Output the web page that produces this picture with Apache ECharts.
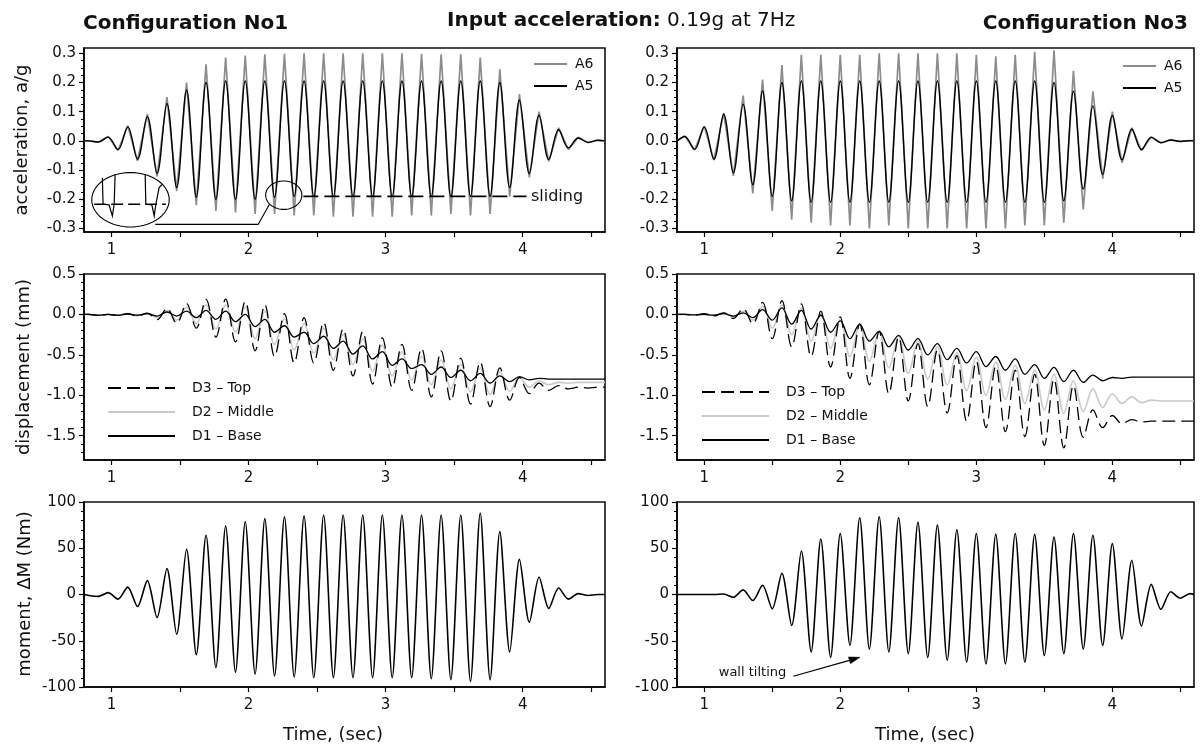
<!DOCTYPE html>
<html>
<head>
<meta charset="utf-8">
<script src="https://cdn.jsdelivr.net/npm/echarts@6.0.0/dist/echarts.min.js"></script>
<style>html,body{margin:0;padding:0;background:#fff}#c{width:1200px;height:752px}</style>
</head>
<body>
<div id="c"></div>
<script>
// ---------------- DATA ----------------
// Time of successive extremes (sec), Configuration No1
const tC1 = [0.80, 0.834, 0.905, 0.976, 1.048, 1.119, 1.190, 1.262, 1.333, 1.405, 1.476, 1.548, 1.619, 1.690, 1.762,
  1.833, 1.905, 1.976, 2.048, 2.119, 2.190, 2.262, 2.333, 2.405, 2.476, 2.548, 2.619, 2.690, 2.762, 2.833, 2.905,
  2.976, 3.048, 3.119, 3.190, 3.262, 3.333, 3.405, 3.476, 3.548, 3.619, 3.690, 3.762, 3.833, 3.905, 3.976, 4.048,
  4.119, 4.190, 4.262, 4.333, 4.405, 4.476, 4.548, 4.60];
// Time of successive extremes (sec), Configuration No3
const tC3 = [0.80, 0.857, 0.929, 1.000, 1.071, 1.143, 1.214, 1.286, 1.357, 1.429, 1.500, 1.571, 1.643, 1.714, 1.786,
  1.857, 1.929, 2.000, 2.071, 2.143, 2.214, 2.286, 2.357, 2.429, 2.500, 2.571, 2.643, 2.714, 2.786, 2.857, 2.929,
  3.000, 3.071, 3.143, 3.214, 3.286, 3.357, 3.429, 3.500, 3.571, 3.643, 3.714, 3.786, 3.857, 3.929, 4.000, 4.071,
  4.143, 4.214, 4.286, 4.357, 4.429, 4.500, 4.571, 4.60];

// acceleration a/g, Config No1
const a5C1 = [0, 0, -0.004, 0.013, -0.03, 0.048, -0.063, 0.083, -0.112, 0.128, -0.16, 0.174, -0.193, 0.2, -0.2,
  0.205, -0.2, 0.205, -0.2, 0.205, -0.193, 0.205, -0.19, 0.205, -0.19, 0.205, -0.19, 0.205, -0.19, 0.205, -0.19,
  0.205, -0.19, 0.205, -0.19, 0.205, -0.19, 0.205, -0.19, 0.205, -0.19, 0.205, -0.19, 0.2, -0.16, 0.14, -0.112,
  0.088, -0.064, 0.038, -0.024, 0.01, -0.005, 0.002, 0];
const a6C1 = [0, 0, -0.004, 0.015, -0.033, 0.052, -0.068, 0.092, -0.122, 0.15, -0.172, 0.2, -0.22, 0.262, -0.24,
  0.285, -0.245, 0.292, -0.25, 0.296, -0.25, 0.298, -0.255, 0.3, -0.255, 0.3, -0.26, 0.3, -0.26, 0.3, -0.26,
  0.3, -0.26, 0.3, -0.255, 0.298, -0.255, 0.296, -0.25, 0.296, -0.255, 0.285, -0.25, 0.245, -0.19, 0.16, -0.125,
  0.1, -0.07, 0.045, -0.03, 0.012, -0.006, 0.002, 0];
// acceleration a/g, Config No3
const a5C3 = [0, 0.015, -0.029, 0.048, -0.063, 0.091, -0.11, 0.126, -0.15, 0.171, -0.19, 0.2, -0.205, 0.205, -0.21,
  0.205, -0.21, 0.205, -0.21, 0.205, -0.21, 0.205, -0.21, 0.205, -0.21, 0.205, -0.21, 0.205, -0.21, 0.205, -0.21,
  0.205, -0.21, 0.205, -0.21, 0.205, -0.21, 0.205, -0.21, 0.2, -0.205, 0.17, -0.165, 0.12, -0.115, 0.087, -0.065,
  0.04, -0.03, 0.012, -0.006, 0.003, -0.002, 0.001, 0];
const a6C3 = [0, 0.017, -0.031, 0.05, -0.066, 0.095, -0.12, 0.155, -0.18, 0.21, -0.24, 0.26, -0.27, 0.295, -0.28,
  0.295, -0.29, 0.295, -0.29, 0.295, -0.3, 0.3, -0.29, 0.3, -0.3, 0.3, -0.3, 0.3, -0.3, 0.3, -0.3,
  0.295, -0.3, 0.29, -0.3, 0.295, -0.29, 0.305, -0.29, 0.31, -0.28, 0.24, -0.235, 0.17, -0.13, 0.1, -0.075,
  0.045, -0.033, 0.014, -0.007, 0.003, -0.002, 0.001, 0];

// displacement (mm), Config No1
const d1C1 = [0, 0, -0.01, 0, -0.01, 0.005, -0.01, 0.01, -0.02, 0.03, -0.02, 0.04, -0.04, 0.05, -0.06,
  0.04, -0.09, 0.0, -0.15, -0.06, -0.22, -0.14, -0.28, -0.22, -0.36, -0.27, -0.42, -0.33, -0.49, -0.39, -0.55,
  -0.46, -0.63, -0.55, -0.67, -0.62, -0.74, -0.65, -0.78, -0.69, -0.82, -0.73, -0.85, -0.76, -0.83, -0.77, -0.81,
  -0.79, -0.8, -0.8, -0.8, -0.8, -0.8, -0.8, -0.8];
const d2C1 = [0, 0, -0.01, 0, -0.01, 0.01, -0.015, 0.01, -0.04, 0.05, -0.07, 0.09, -0.11, 0.12, -0.18,
  0.12, -0.22, 0.09, -0.3, 0.04, -0.37, -0.05, -0.44, -0.11, -0.48, -0.17, -0.56, -0.25, -0.62, -0.3, -0.7,
  -0.38, -0.76, -0.46, -0.81, -0.52, -0.87, -0.56, -0.92, -0.62, -0.96, -0.66, -0.99, -0.71, -0.95, -0.78, -0.9,
  -0.82, -0.87, -0.84, -0.85, -0.84, -0.84, -0.84, -0.84];
const d3C1 = [0, 0, -0.01, 0.0, -0.01, 0.01, -0.02, 0.015, -0.065, 0.075, -0.11, 0.135, -0.17, 0.185, -0.28,
  0.19, -0.34, 0.16, -0.45, 0.12, -0.52, 0.01, -0.6, -0.04, -0.6, -0.1, -0.69, -0.18, -0.76, -0.21, -0.86,
  -0.29, -0.9, -0.37, -0.94, -0.42, -1.02, -0.45, -1.07, -0.54, -1.11, -0.59, -1.14, -0.66, -1.06, -0.78, -0.98,
  -0.85, -0.94, -0.88, -0.92, -0.9, -0.91, -0.9, -0.9];
// displacement (mm), Config No3
const d1C3 = [0, 0, -0.005, 0, -0.01, 0.01, -0.02, 0.02, -0.04, 0.06, -0.07, 0.08, -0.12, 0.05, -0.18,
  -0.01, -0.22, -0.08, -0.3, -0.12, -0.33, -0.21, -0.4, -0.26, -0.44, -0.3, -0.5, -0.36, -0.56, -0.42, -0.6,
  -0.46, -0.645, -0.52, -0.69, -0.55, -0.74, -0.62, -0.79, -0.655, -0.83, -0.69, -0.84, -0.75, -0.82, -0.78, -0.79,
  -0.775, -0.775, -0.775, -0.775, -0.775, -0.775, -0.775, -0.775];
const d2C3 = [0, 0, -0.005, 0, -0.015, 0.02, -0.03, 0.04, -0.07, 0.1, -0.17, 0.12, -0.25, 0.08, -0.33,
  0.01, -0.42, -0.06, -0.52, -0.12, -0.58, -0.21, -0.66, -0.27, -0.73, -0.33, -0.8, -0.4, -0.87, -0.47, -0.94,
  -0.53, -1.0, -0.59, -1.05, -0.63, -1.1, -0.69, -1.18, -0.74, -1.22, -0.82, -1.2, -0.92, -1.15, -0.98, -1.1,
  -1.02, -1.09, -1.06, -1.07, -1.07, -1.07, -1.07, -1.07];
const d3C3 = [0, 0, -0.01, 0.01, -0.02, 0.02, -0.05, 0.07, -0.115, 0.15, -0.3, 0.17, -0.4, 0.13, -0.52,
  0.04, -0.65, -0.03, -0.79, -0.12, -0.87, -0.21, -0.98, -0.28, -1.07, -0.36, -1.14, -0.44, -1.22, -0.51, -1.32,
  -0.58, -1.4, -0.64, -1.45, -0.69, -1.51, -0.74, -1.62, -0.8, -1.65, -0.88, -1.52, -1.18, -1.4, -1.25, -1.35,
  -1.3, -1.33, -1.32, -1.32, -1.32, -1.32, -1.32, -1.32];

// moment dM (Nm)
const mC1 = [0, -1, -2, 2, -5, 8, -13, 15, -25, 28, -43, 49, -65, 64, -79, 74, -84, 79, -86, 82, -88, 84, -89, 85,
  -90, 86, -90, 86, -90, 86, -90, 86, -90, 86, -90, 86, -91, 86, -92, 86, -94, 88, -92, 68, -62, 38, -30, 19, -15,
  7, -5, 1, -1, 0, 0];
const mC3 = [0, 0, 0, 0, 0, 0.5, -3, 5, -6.5, 10, -15.5, 23, -33.5, 47, -62, 60, -68, 66, -55, 83, -59, 84, -62, 83,
  -64, 78, -68, 75, -71, 70, -73, 66, -75, 65, -75, 66, -73, 65, -66, 62, -64, 66, -59, 64, -55, 55, -48, 37, -34,
  11, -16, 3, -4, 1, 0];

// tick values / labels
const timeTicks = [1, 1.5, 2, 2.5, 3, 3.5, 4, 4.5];
const timeLabels = [1, 2, 3, 4];
const accTicks = [-0.3, -0.2, -0.1, 0, 0.1, 0.2, 0.3];
const dispTicks = [-1.5, -1.0, -0.5, 0, 0.5];
const momTicks = [-100, -50, 0, 50, 100];

// annotation geometry (data coordinates)
const slideLevel = -0.19, slideFrom = 2.40, slideTo = 4.027, slideText = 4.06;
const bigEll = {c: [1.139, -0.2016], r: [0.2825, 0.0932]};
const smallEll = {c: [2.257, -0.186], r: [0.132, 0.0487]};
const connector = [[1.32, -0.286], [2.07, -0.286], [2.153, -0.217]];
const zoomDash = [[0.874, -0.217], [1.397, -0.217]];
const zoomTroughL = [[0.934, -0.126], [0.939, -0.217], [0.983, -0.219], [1.007, -0.257], [1.02, -0.217], [1.027, -0.114]];
const zoomTroughR = [[1.246, -0.114], [1.251, -0.217], [1.295, -0.219], [1.312, -0.257], [1.324, -0.217], [1.348, -0.16], [1.372, -0.148]];
const tiltArrow = [[1.655, -88.4], [2.145, -67.9]];
const tiltText = [1.107, -84.1];

// ---------------- CHART ----------------
const FONT = 'DejaVu Sans';
const INK = '#111';
const grids = [
  {left: 84, top: 48, width: 521, height: 184},
  {left: 677, top: 48, width: 517, height: 184},
  {left: 84, top: 274, width: 521, height: 186},
  {left: 677, top: 274, width: 517, height: 186},
  {left: 84, top: 502, width: 521, height: 185},
  {left: 677, top: 502, width: 517, height: 185}
].map(g => Object.assign({show: true, borderColor: '#111', borderWidth: 1.6, containLabel: false}, g));

const yRange = [[-0.312, 0.318], [-0.312, 0.318], [-1.8, 0.5], [-1.8, 0.5], [-100, 100], [-100, 100]];
const yTicks = [accTicks, accTicks, dispTicks, dispTicks, momTicks, momTicks];
const yFmt = [1, 1, 1, 1, 0, 0];

function minors(lo, hi, step, every) {
  const out = [];
  const k0 = Math.ceil(lo / step - 1e-9), k1 = Math.floor(hi / step + 1e-9);
  for (let k = k0; k <= k1; k++) if (k % every !== 0) out.push(+(k * step).toFixed(4));
  return out;
}
const yMinor = [minors(-0.3, 0.3, 0.025, 4), minors(-0.3, 0.3, 0.025, 4),
  minors(-1.79, 0.5, 0.1, 5), minors(-1.79, 0.5, 0.1, 5),
  minors(-100, 100, 10, 5), minors(-100, 100, 10, 5)];

const xAxes = grids.map((g, i) => ({
  type: 'value', gridIndex: i, min: 0.8, max: 4.6,
  axisLine: {onZero: false, lineStyle: {color: '#000', width: 1.5}},
  axisTick: {customValues: timeTicks, length: 5, lineStyle: {color: '#000', width: 1.2}},
  axisLabel: {customValues: timeLabels, margin: 11, fontFamily: FONT, fontSize: 15, color: INK},
  splitLine: {show: false}
}));
const yAxes = grids.map((g, i) => ({
  type: 'value', gridIndex: i, min: yRange[i][0], max: yRange[i][1],
  axisLine: {show: true, onZero: false, lineStyle: {color: '#000', width: 1.5}},
  axisTick: {customValues: yTicks[i], length: 5, lineStyle: {color: '#000', width: 1.2}},
  axisLabel: {customValues: yTicks[i], margin: 8, fontFamily: FONT, fontSize: 15, color: INK,
    formatter: v => (+v).toFixed(yFmt[i])},
  splitLine: {show: false}
})).concat(grids.map((g, i) => ({
  type: 'value', gridIndex: i, min: yRange[i][0], max: yRange[i][1], position: 'left', offset: 0,
  axisLine: {show: false, onZero: false},
  axisTick: {customValues: yMinor[i], length: 3, lineStyle: {color: '#000', width: 1}},
  axisLabel: {show: false},
  splitLine: {show: false}
})));

function lineSeries(name, gi, t, v, o) {
  return {
    type: 'line', name: name, xAxisIndex: gi, yAxisIndex: gi,
    data: t.map((x, k) => [x, v[k]]),
    symbol: 'none', showSymbol: false, smooth: o.smooth || false,
    lineStyle: {color: o.color, width: o.width, type: o.dash || 'solid'},
    itemStyle: {color: o.color},
    z: o.z || 2, silent: true, animation: false
  };
}

function ellipsePts(api, e) {
  const c = api.coord(e.c);
  const s = api.size(e.r);
  const pts = [];
  for (let k = 0; k < 72; k++) {
    const a = k / 72 * 2 * Math.PI;
    pts.push([c[0] + s[0] * Math.cos(a), c[1] + s[1] * Math.sin(a)]);
  }
  return pts;
}

const annotC1 = {
  type: 'custom', xAxisIndex: 0, yAxisIndex: 0, data: [[1, 0]], silent: true, z: 6, clip: false,
  renderItem: function (params, api) {
    const P = p => api.coord(p);
    const st = (w, dash) => ({stroke: '#000', fill: 'none', lineWidth: w, lineDash: dash || null});
    const a = P([slideFrom, slideLevel]), b = P([slideTo, slideLevel]);
    const d0 = P(zoomDash[0]), d1 = P(zoomDash[1]);
    const tp = P([slideText, slideLevel]);
    return {type: 'group', children: [
      {type: 'line', shape: {x1: a[0], y1: a[1], x2: b[0], y2: b[1]}, style: st(1.7, [15, 6])},
      {type: 'polygon', shape: {points: ellipsePts(api, smallEll)}, style: st(1.1)},
      {type: 'polygon', shape: {points: ellipsePts(api, bigEll)}, style: st(1.1)},
      {type: 'polyline', shape: {points: connector.map(P)}, style: st(1.1)},
      {type: 'line', shape: {x1: d0[0], y1: d0[1], x2: d1[0], y2: d1[1]}, style: st(1.3, [12, 5])},
      {type: 'polyline', shape: {points: zoomTroughL.map(P)}, style: st(1.2)},
      {type: 'polyline', shape: {points: zoomTroughR.map(P)}, style: st(1.2)},
      {type: 'text', x: tp[0], y: tp[1], style: {text: 'sliding', fontFamily: FONT, fontSize: 16, fill: INK,
        align: 'left', verticalAlign: 'middle'}}
    ]};
  }
};

const annotC3 = {
  type: 'custom', xAxisIndex: 5, yAxisIndex: 5, data: [[1, 0]], silent: true, z: 6, clip: false,
  renderItem: function (params, api) {
    const a = api.coord(tiltArrow[0]), b = api.coord(tiltArrow[1]);
    const dx = b[0] - a[0], dy = b[1] - a[1], L = Math.sqrt(dx * dx + dy * dy);
    const ux = dx / L, uy = dy / L, hl = 11, hw = 3.5;
    const base = [b[0] - ux * hl, b[1] - uy * hl];
    const head = [[b[0], b[1]], [base[0] - uy * hw, base[1] + ux * hw], [base[0] + uy * hw, base[1] - ux * hw]];
    const tp = api.coord(tiltText);
    return {type: 'group', children: [
      {type: 'line', shape: {x1: a[0], y1: a[1], x2: base[0], y2: base[1]}, style: {stroke: '#000', lineWidth: 1.2}},
      {type: 'polygon', shape: {points: head}, style: {fill: '#000', stroke: '#000', lineWidth: 0.5}},
      {type: 'text', x: tp[0], y: tp[1], style: {text: 'wall tilting', fontFamily: FONT, fontSize: 13, fill: INK,
        align: 'left', verticalAlign: 'middle'}}
    ]};
  }
};

const GRAYA = '#8c8c8c', GRAYD = '#c9c9c9';
const DASH = [13, 6];
const series = [
  lineSeries('A6', 0, tC1, a6C1, {color: GRAYA, width: 1.7}),
  lineSeries('A5', 0, tC1, a5C1, {color: '#000', width: 1.4, smooth: 0.36, z: 3}),
  lineSeries('A6', 1, tC3, a6C3, {color: GRAYA, width: 1.7}),
  lineSeries('A5', 1, tC3, a5C3, {color: '#000', width: 1.4, smooth: 0.36, z: 3}),
  lineSeries('D2 – Middle', 2, tC1, d2C1, {color: GRAYD, width: 1.6, smooth: 0.36}),
  lineSeries('D1 – Base', 2, tC1, d1C1, {color: '#000', width: 1.3, smooth: 0.36, z: 3}),
  lineSeries('D3 – Top', 2, tC1, d3C1, {color: '#000', width: 1.3, smooth: 0.36, dash: DASH, z: 4}),
  lineSeries('D2 – Middle', 3, tC3, d2C3, {color: GRAYD, width: 1.6, smooth: 0.36}),
  lineSeries('D1 – Base', 3, tC3, d1C3, {color: '#000', width: 1.3, smooth: 0.36, z: 3}),
  lineSeries('D3 – Top', 3, tC3, d3C3, {color: '#000', width: 1.3, smooth: 0.36, dash: DASH, z: 4}),
  lineSeries('moment No1', 4, tC1, mC1, {color: '#000', width: 1.6, smooth: 0.28}),
  lineSeries('moment No3', 5, tC3, mC3, {color: '#000', width: 1.6, smooth: 0.28}),
  annotC1, annotC3
];

function legendA(left, top) {
  return {data: ['A6', 'A5'], left: left, top: top, orient: 'vertical', padding: 0, selectedMode: false,
    itemWidth: 33, itemHeight: 14, itemGap: 8, itemStyle: {opacity: 0},
    textStyle: {fontFamily: FONT, fontSize: 14, color: INK, padding: [0, 0, 0, 3]}};
}
function legendD(left, top) {
  return {data: ['D3 – Top', 'D2 – Middle', 'D1 – Base'], left: left, top: top, orient: 'vertical', padding: 0,
    selectedMode: false, itemWidth: 67, itemHeight: 14, itemGap: 10, itemStyle: {opacity: 0},
    textStyle: {fontFamily: FONT, fontSize: 14, color: INK, padding: [0, 0, 0, 12]}};
}

function vText(text, x, y) {
  return {type: 'text', x: x, y: y, rotation: Math.PI / 2, silent: true,
    style: {text: text, fontFamily: FONT, fontSize: 18, fill: INK, align: 'center', verticalAlign: 'middle'}};
}
function hText(text, x, y, size, weight, align) {
  return {type: 'text', x: x, y: y, silent: true,
    style: {text: text, fontFamily: FONT, fontSize: size, fontWeight: weight, fill: INK, align: align, verticalAlign: 'middle'}};
}

const option = {
  animation: false,
  backgroundColor: '#fff',
  grid: grids,
  xAxis: xAxes,
  yAxis: yAxes,
  legend: [legendA(533, 57), legendA(1122, 59), legendD(107, 381), legendD(701, 385)],
  series: series,
  graphic: [
    hText('Configuration No1', 83, 24, 20, 'bold', 'left'),
    {type: 'text', x: 447, y: 21, silent: true,
      style: {text: '{b|Input acceleration:} 0.19g at 7Hz', fontFamily: FONT, fontSize: 20, fill: INK,
        align: 'left', verticalAlign: 'middle',
        rich: {b: {fontFamily: FONT, fontSize: 20, fontWeight: 'bold', fill: INK}}}},
    hText('Configuration No3', 1188, 24, 20, 'bold', 'right'),
    vText('acceleration, a/g', 22, 140),
    vText('displacement (mm)', 24, 367),
    vText('moment, ΔM (Nm)', 25, 594),
    hText('Time, (sec)', 333, 735, 18, 'normal', 'center'),
    hText('Time, (sec)', 925, 735, 18, 'normal', 'center')
  ]
};

const chart = echarts.init(document.getElementById('c'), null, {renderer: 'canvas'});
chart.setOption(option);
</script>
</body>
</html>
